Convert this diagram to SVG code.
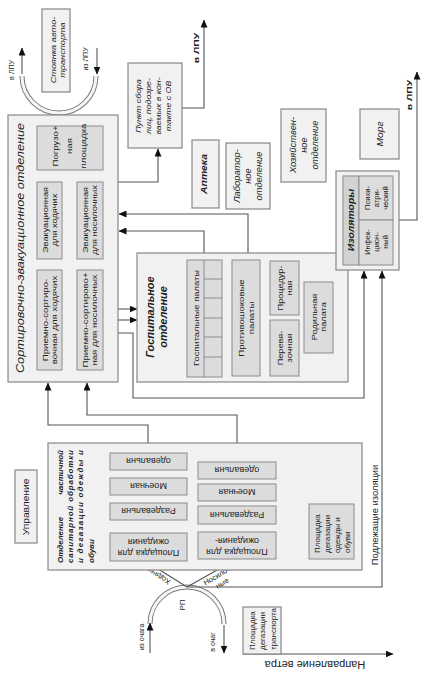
<svg xmlns="http://www.w3.org/2000/svg" width="427" height="676" viewBox="0 0 427 676">
<style>
.box{fill:#f1f1f1;stroke:#888;stroke-width:1.2}
.inner{fill:#dcdcdc;stroke:#8c8c8c;stroke-width:1}
.hdr{fill:#d2d2d2;stroke:#8c8c8c;stroke-width:1}
.c{fill:none;stroke:#555;stroke-width:1.1}
.a{marker-end:url(#ah)}
.to{fill:none;stroke:#7a7a7a;stroke-width:5}
.ti{fill:none;stroke:#f7f7f7;stroke-width:3}
text{font-family:"Liberation Sans",Arial,sans-serif;fill:#222;text-anchor:middle;font-size:8px}
.i{font-style:italic}
.b{font-weight:bold}
.st{text-anchor:start}
.u{font-size:9px}
</style>
<defs>
<marker id="ah" markerWidth="8" markerHeight="7" refX="7.5" refY="3.5" orient="auto" markerUnits="userSpaceOnUse"><path d="M0,0 L8,3.5 L0,7 z" fill="#111"/></marker>
</defs>
<rect width="427" height="676" fill="#fff"/>

<g id="connectors">
<path class="to" d="M22,76 A37,37 0 0 0 96,76"/><path class="ti" d="M22,76 A37,37 0 0 0 96,76"/>
<path class="to" d="M150,624 A37,37 0 0 1 224,624"/><path class="ti" d="M150,624 A37,37 0 0 1 224,624"/>
<path class="c a" d="M22,74 V48"/>
<path class="c a" d="M97,48 V74"/>
<path class="c a" d="M118,182 H158 V149"/>
<path class="c a" d="M182,108 H204 V20"/>
<path class="c a" d="M399,220 H417 V72"/>
<path class="c a" d="M48,182 V171"/>
<path class="c a" d="M88,182 V171"/>
<path class="c a" d="M204,253 V231 H119"/>
<path class="c a" d="M248,253 V214 H119"/>
<path class="c a" d="M118,309 H137"/>
<path class="c a" d="M118,320 H137"/>
<path class="c a" d="M118,333 H133 V398 H364 V271"/>
<path class="c a" d="M187,587 H382 V271"/>
<path class="c a" d="M148,443 V425 H48 V383"/>
<path class="c a" d="M237,443 V415 H87 V383"/>
<path class="c a" d="M187,587 L147,562"/>
<path class="c a" d="M187,587 L233,561"/>
<path class="c a" d="M150,653 V623"/>
<path class="c a" d="M224,625 V653"/>
<path class="c a" d="M243,654 H393"/>
<text transform="translate(12,70) rotate(-90)" style="font-size:7px" y="2.4">в ЛПУ</text>
<text transform="translate(86,59) rotate(-90)" style="font-size:7px" y="2.4">из ЛПУ</text>
<text class="b" transform="translate(196,48) rotate(-90) scale(1.3,1)" y="2.8">в ЛПУ</text>
<text class="b" transform="translate(409,95) rotate(-90) scale(1.3,1)" y="2.8">в ЛПУ</text>
<text transform="translate(182,605) rotate(-90)" y="2.8">РП</text>
<text transform="translate(142,637) rotate(-90)" style="font-size:7px" y="2.4">из очага</text>
<text transform="translate(213,642) rotate(-90)" style="font-size:7px" y="2.4">в очаг</text>
<text transform="translate(157,575) rotate(212)" style="font-size:7.5px" y="2.6">Ходячие</text>
<text transform="translate(218,575) rotate(-31)" style="font-size:7.5px" y="2.6">Носилоч-</text>
<text transform="translate(222,583) rotate(-31)" style="font-size:7.5px" y="2.6">ные</text>
<text transform="translate(375,515) rotate(-90) scale(1.1,1)" style="font-size:8.5px" y="3">Подлежащие изоляции</text>
<text transform="translate(315,665) rotate(180)" style="font-size:11px" y="3.9">Направление ветра</text>
</g>

<g id="n-stoyanka">
<rect class="box" x="42" y="9" width="28" height="83"/>
<text class="i" transform="translate(56,50) rotate(-90) scale(1.15,1)"><tspan x="0" y="-0.2">Стоянка авто-</tspan><tspan x="0" y="8.8">транспорта</tspan></text>
</g>

<g id="n-punkt">
<rect class="box" x="128" y="63" width="54" height="85"/>
<text class="i" transform="translate(155,106) rotate(-90) scale(1.1,1)"><tspan x="0" y="-14.2">Пункт сбора</tspan><tspan x="0" y="-4.2">лиц, подозре-</tspan><tspan x="0" y="5.8">ваемых в кон-</tspan><tspan x="0" y="15.8">такте с ОВ</tspan></text>
</g>

<g id="n-apteka">
<rect class="box" x="192" y="140" width="27" height="68"/>
<text class="i b" transform="translate(204,174) rotate(-90) scale(1.1,1)" style="font-size:9.5px" y="3.3">Аптека</text>
</g>

<g id="n-lab">
<rect class="box" x="226" y="143" width="44" height="66"/>
<text class="i" transform="translate(248,176) rotate(-90) scale(1.1,1)" style="font-size:8.5px"><tspan x="0" y="-8">Лаборатор-</tspan><tspan x="0" y="3">ное</tspan><tspan x="0" y="14">отделение</tspan></text>
</g>

<g id="n-hoz">
<rect class="box" x="281" y="109" width="45" height="73"/>
<text class="i" transform="translate(304,145) rotate(-90) scale(1.1,1)" style="font-size:8.5px"><tspan x="0" y="-8">Хозяйствен-</tspan><tspan x="0" y="3">ное</tspan><tspan x="0" y="14">отделение</tspan></text>
</g>

<g id="n-morg">
<rect class="box" x="360" y="109" width="39" height="50"/>
<text class="i" transform="translate(380,134) rotate(-90) scale(1.15,1)" style="font-size:9px" y="3.2">Морг</text>
</g>

<g id="n-sort">
<rect class="box" x="8" y="115" width="110" height="267"/>
<text class="i" transform="translate(20,248) rotate(-90)" style="font-size:11.5px" y="4" textLength="250" lengthAdjust="spacingAndGlyphs">Сортировочно-эвакуационное отделение</text>
<g id="n-pogruz">
<rect class="inner" x="37" y="126" width="66" height="44"/>
<text transform="translate(70,146) rotate(-90) scale(1.2,1)"><tspan x="0" y="-12.2">Погрузо+</tspan><tspan x="0" y="1.8">ная</tspan><tspan x="0" y="15.8">площадка</tspan></text>
</g>
<g id="n-evak-hod">
<rect class="inner" x="37" y="182" width="25" height="77"/>
<text transform="translate(49.5,220) rotate(-90) scale(1.15,1)"><tspan x="0" y="-1.7">Эвакуационная</tspan><tspan x="0" y="7.3">для ходячих</tspan></text>
</g>
<g id="n-evak-nos">
<rect class="inner" x="77" y="182" width="26" height="77"/>
<text transform="translate(89.5,220) rotate(-90) scale(1.15,1)"><tspan x="0" y="-1.7">Эвакуационная</tspan><tspan x="0" y="7.3">для носилочных</tspan></text>
</g>
<g id="n-priem-hod">
<rect class="inner" x="37" y="270" width="25" height="100"/>
<text transform="translate(49.5,320) rotate(-90) scale(1.2,1)"><tspan x="0" y="-1.7">Приемно-сортиро-</tspan><tspan x="0" y="7.3">вочная для ходячих</tspan></text>
</g>
<g id="n-priem-nos">
<rect class="inner" x="77" y="270" width="26" height="100"/>
<text transform="translate(89.5,320) rotate(-90) scale(1.2,1)"><tspan x="0" y="-1.7">Приемно-сортирово+</tspan><tspan x="0" y="7.3">ная для носилочных</tspan></text>
</g>
</g>

<g id="n-gosp">
<rect class="box" x="137" y="253" width="211" height="129"/>
<text class="i b" transform="translate(156.5,317) rotate(-90)" style="font-size:11px"><tspan x="0" y="-2.6">Госпитальное</tspan><tspan x="0" y="10.4">отделение</tspan></text>
<g id="n-gosp-palaty">
<rect class="inner" x="187" y="260" width="35" height="117"/>
<path d="M204,260 V377 M204,279 H222 M204,298 H222 M204,318 H222 M204,337 H222 M204,357 H222" stroke="#8c8c8c" fill="none"/>
<text transform="translate(196,318) rotate(-90)" y="2.8" textLength="96" lengthAdjust="spacingAndGlyphs">Госпитальные палаты</text>
</g>
<g id="n-protivoshok">
<rect class="inner" x="232" y="260" width="28" height="116"/>
<text transform="translate(246,318) rotate(-90) scale(1.2,1)"><tspan x="0" y="-2.2">Противошоковые</tspan><tspan x="0" y="7.8">палаты</tspan></text>
</g>
<g id="n-proced">
<rect class="inner" x="270" y="261" width="29" height="54"/>
<text transform="translate(284.5,288) rotate(-90) scale(1.15,1)"><tspan x="0" y="-1.7">Процедур-</tspan><tspan x="0" y="7.3">ная</tspan></text>
</g>
<g id="n-perev">
<rect class="inner" x="270" y="320" width="29" height="56"/>
<text transform="translate(284.5,348) rotate(-90) scale(1.15,1)"><tspan x="0" y="-1.7">Перевя-</tspan><tspan x="0" y="7.3">зочная</tspan></text>
</g>
<g id="n-rodil">
<rect class="inner" x="304" y="282" width="29" height="71"/>
<text transform="translate(318.5,317) rotate(-90) scale(1.15,1)"><tspan x="0" y="-1.7">Родильная</tspan><tspan x="0" y="7.3">палата</tspan></text>
</g>
</g>

<g id="n-izol">
<rect class="box" x="336" y="171" width="63" height="99"/>
<rect class="hdr" x="343" y="176" width="16" height="89"/>
<text class="i b" transform="translate(351,220) rotate(-90) scale(1.1,1)" style="font-size:9.5px" y="3.3">Изоляторы</text>
<g id="n-psih">
<rect class="inner" x="359" y="176" width="34" height="44"/>
<text transform="translate(376,198) rotate(-90)" style="font-size:7.5px"><tspan x="0" y="-6.4">Психи-</tspan><tspan x="0" y="2.6">атри-</tspan><tspan x="0" y="11.6">ческий</tspan></text>
</g>
<g id="n-infek">
<rect class="inner" x="359" y="220" width="34" height="45"/>
<text transform="translate(376,242) rotate(-90)" style="font-size:7.5px"><tspan x="0" y="-6.4">Инфек-</tspan><tspan x="0" y="2.6">цион-</tspan><tspan x="0" y="11.6">ный</tspan></text>
</g>
</g>

<g id="n-sanobr">
<rect class="box" x="48" y="443" width="314" height="127"/>
<g class="i b" style="font-size:9.5px">
<text class="st" transform="translate(75.5,563) rotate(-90)" y="-12.2">Отделение</text>
<text transform="translate(75.5,563) rotate(-90)" style="text-anchor:end" x="113" y="-12.2">частичной</text>
<text class="st" transform="translate(75.5,563) rotate(-90)" y="-2.2" textLength="113" lengthAdjust="spacing">санитарной обработки</text>
<text class="st" transform="translate(75.5,563) rotate(-90)" y="7.8" textLength="113" lengthAdjust="spacing">и дегазации одежды и</text>
<text class="st" transform="translate(75.5,563) rotate(-90)" y="18.8">обуви</text>
</g>
<g id="n-odev-h"><rect class="inner" x="110" y="453" width="77" height="17"/><text class="u" transform="translate(148.5,461.5) rotate(180)" y="3.1">одевальня</text></g>
<g id="n-moech-h"><rect class="inner" x="110" y="478" width="77" height="17"/><text class="u" transform="translate(148.5,486.5) rotate(180)" y="3.1">Моечная</text></g>
<g id="n-razdev-h"><rect class="inner" x="110" y="503" width="77" height="17"/><text class="u" transform="translate(148.5,511.5) rotate(180)" y="3.1">Раздевальня</text></g>
<g id="n-ozhid-h"><rect class="inner" x="110" y="533" width="77" height="28"/><text class="u" transform="translate(148.5,547) rotate(180)"><tspan x="0" y="-3">Площадка для</tspan><tspan x="0" y="8">ожидания</tspan></text></g>
<g id="n-odev-n"><rect class="inner" x="198" y="462" width="78" height="17"/><text class="u" transform="translate(237,470.5) rotate(180)" y="3.1">одевальня</text></g>
<g id="n-moech-n"><rect class="inner" x="198" y="484" width="78" height="17"/><text class="u" transform="translate(237,492.5) rotate(180)" y="3.1">Моечная</text></g>
<g id="n-razdev-n"><rect class="inner" x="198" y="506" width="78" height="18"/><text class="u" transform="translate(237,515) rotate(180)" y="3.1">Раздевальня</text></g>
<g id="n-ozhid-n"><rect class="inner" x="198" y="532" width="78" height="27"/><text class="u" transform="translate(237,545.5) rotate(180)"><tspan x="0" y="-3.5">Площадка для</tspan><tspan x="0" y="7.5">ожидания-</tspan></text></g>
<g id="n-degaz-od"><rect class="inner" x="309" y="504" width="45" height="55"/><text class="st" transform="translate(331.5,553) rotate(-90)"><tspan x="0" y="-11.7">Площадка</tspan><tspan x="0" y="-1.7">дегазации</tspan><tspan x="0" y="8.3">одежды и</tspan><tspan x="0" y="18.3">обуви</tspan></text></g>
</g>

<g id="n-upr">
<rect class="box" x="15" y="470" width="22" height="73"/>
<text transform="translate(26,507) rotate(-90) scale(1.2,1)" style="font-size:8.5px" y="3">Управление</text>
</g>

<g id="n-degaz-tr">
<rect class="box" x="243" y="607" width="38" height="47"/>
<text class="st" transform="translate(262,650) rotate(-90)"><tspan x="0" y="-7.2">Площадка</tspan><tspan x="0" y="2.8">дегазации</tspan><tspan x="0" y="13.8">транспорта</tspan></text>
</g>
</svg>
